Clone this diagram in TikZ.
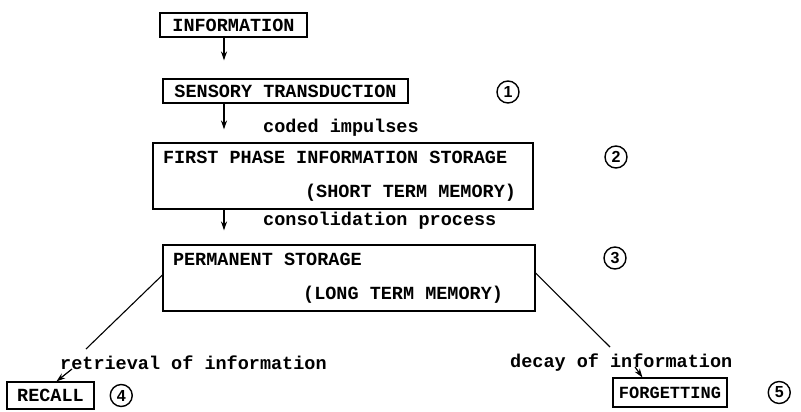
\documentclass[tikz,border=0pt]{standalone}
\usepackage{fontspec}
\setmonofont{Liberation Mono}
\setsansfont{Liberation Sans}
\usetikzlibrary{arrows.meta, positioning}

\begin{document}
\begin{tikzpicture}[x=1pt, y=-1pt, >={Stealth[length=9pt, width=6pt]},
    every node/.style={font=\ttfamily\bfseries\fontsize{18.5}{34}\selectfont},
    stage/.style={draw, line width=1.1pt, inner sep=0pt},
    twoline/.style={stage, align=left, inner xsep=10pt, inner ysep=0pt, minimum height=66pt},
    lbl/.style={anchor=west, inner sep=0pt},
    num/.style={circle, draw, line width=1.4pt, minimum size=22pt, inner sep=0pt, font=\sffamily\bfseries\fontsize{16}{16}\selectfont},
    flow/.style={->, line width=1.2pt},
    link/.style={line width=1.1pt}]
    \useasboundingbox (0,0) rectangle (801,412);
    % main chain
    \node[stage, minimum width=147pt, minimum height=24pt] (info) at (233.5,25) {INFORMATION};
    \node[stage, minimum width=245pt, minimum height=24pt] (sensory) at (285.5,91) {SENSORY TRANSDUCTION};
    \node[twoline] (firstphase) at (343,176) {\makebox[360pt][l]{FIRST PHASE INFORMATION STORAGE}\\ \makebox[360pt][r]{(SHORT TERM MEMORY)\hspace*{7pt}}};
    \node[twoline] (permanent) at (349,278) {\makebox[352pt][l]{PERMANENT STORAGE}\\ \makebox[352pt][r]{(LONG TERM MEMORY)\hspace*{22pt}}};
    \coordinate (spine) at (224,0);
    \draw[flow, shorten >=18pt] (info.south -| spine) -- (sensory.north -| spine);
    \draw[flow, shorten >=13pt] (sensory.south -| spine) -- (firstphase.north -| spine);
    \draw[flow, shorten >=14pt] (firstphase.south -| spine) -- (permanent.north -| spine);
    \node[lbl] (coded) at (263,128) {coded impulses};
    \node[lbl] (consol) at (263,221) {consolidation process};
    % the two outcomes
    \node[stage, minimum width=87pt, minimum height=27pt] (recall) at (50.5,395.5) {RECALL};
    \node[stage, minimum width=114pt, minimum height=29pt, font=\ttfamily\bfseries\fontsize{17}{20}\selectfont] (forgetting) at (670,392.5) {FORGETTING};
    \node[lbl] (retrieval) at (60,363) {retrieval of information};
    \node[lbl] (decay) at (510,363) {decay of information};
    \coordinate (retrend) at (86,349);
    \coordinate (rettail) at (72,369);
    \coordinate (decayend) at (610,347);
    \coordinate (decaytail) at (635,367);
    \draw[link] ([yshift=3pt]permanent.west) -- (retrend);
    \draw[flow] (rettail) -- ([xshift=50pt]recall.north west);
    \draw[link] ([yshift=5pt]permanent.east) -- (decayend);
    \draw[flow] (decaytail) -- ([xshift=30pt]forgetting.north west);
    % stage numbers
    \node[num] (n1) at (508,92) {1};
    \node[num] (n2) at (616,157) {2};
    \node[num] (n3) at (615,258) {3};
    \node[num, right=15pt of recall] (n4) {4};
    \node[num, right=40pt of forgetting] (n5) {5};
\end{tikzpicture}
\end{document}
